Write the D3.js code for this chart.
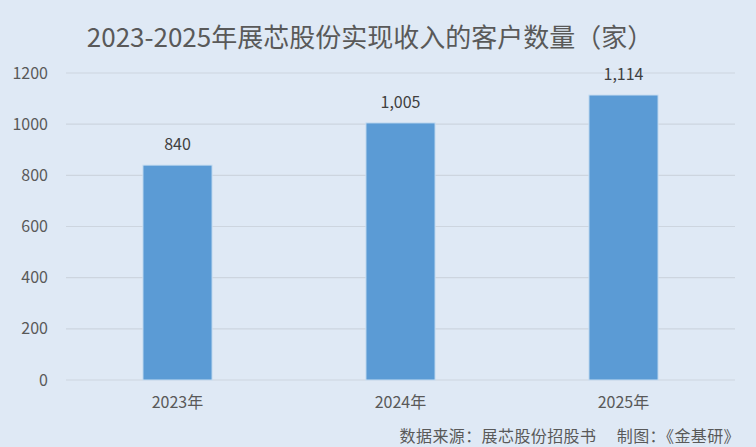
<!DOCTYPE html>
<html><head><meta charset="utf-8">
<script src="https://cdn.jsdelivr.net/npm/d3@7"></script>
<style>html,body{margin:0;padding:0;background:#dfe9f5;}svg{display:block;}</style>
</head><body>
<svg id="c" width="756" height="447"></svg>
<script>
const categories = ["2023年", "2024年", "2025年"];
const values = [840, 1005, 1114];
const valueLabels = ["840", "1,005", "1,114"];
const yTicks = [0, 200, 400, 600, 800, 1000, 1200];
const title = "2023-2025年展芯股份实现收入的客户数量（家）";
const source = "数据来源：展芯股份招股书　 制图：《金基研》";

const W = 756, H = 447;
const font = "'Noto Sans CJK SC', 'Microsoft YaHei', sans-serif";
const svg = d3.select("#c");
svg.append("rect").attr("width", W).attr("height", H).attr("fill", "#dfe9f5");

const m = {left: 66, right: 21, top: 73, bottom: 67};
const x = d3.scaleBand().domain(categories).range([m.left, W - m.right]).paddingInner(0.69).paddingOuter(0.345);
const y = d3.scaleLinear().domain([0, 1200]).range([H - m.bottom, m.top]);

// grid
svg.append("g").selectAll("line").data(yTicks).join("line")
  .attr("x1", m.left).attr("x2", W - m.right)
  .attr("y1", d => y(d)).attr("y2", d => y(d))
  .attr("stroke", "#cdd5df").attr("stroke-width", 1.2);

// y axis
const ya = svg.append("g").attr("transform", `translate(${m.left},0)`)
  .call(d3.axisLeft(y).tickValues(yTicks).tickSize(0).tickPadding(18).tickFormat(d3.format("d")));
ya.select(".domain").remove();
ya.selectAll("text").attr("font-family", font).attr("font-size", 16).attr("fill", "#595959");

// x axis
const xa = svg.append("g").attr("transform", `translate(0,${H - m.bottom})`)
  .call(d3.axisBottom(x).tickSize(0).tickPadding(17));
xa.select(".domain").remove();
xa.selectAll("text").attr("font-family", font).attr("font-size", 16).attr("fill", "#595959");

// bars
svg.append("g").selectAll("rect").data(values).join("rect")
  .attr("x", (d, i) => x(categories[i])).attr("width", x.bandwidth())
  .attr("y", d => y(d)).attr("height", d => y(0) - y(d))
  .attr("fill", "#5b9bd5").attr("stroke", "#c9def2").attr("stroke-width", 1);

// value labels
svg.append("g").selectAll("text").data(values).join("text")
  .attr("x", (d, i) => x(categories[i]) + x.bandwidth() / 2)
  .attr("y", d => y(d) - 15)
  .attr("text-anchor", "middle").attr("font-family", font).attr("font-size", 16).attr("fill", "#404040")
  .text((d, i) => valueLabels[i]);

// title
svg.append("text").attr("x", 370).attr("y", 47).attr("text-anchor", "middle")
  .attr("font-family", font).attr("font-size", 26).attr("fill", "#595959").text(title);

// source
svg.append("text").attr("x", 740).attr("y", 442).attr("text-anchor", "end")
  .attr("font-family", font).attr("font-size", 16).attr("letter-spacing", 0.4).attr("fill", "#595959").text(source);
</script>
</body></html>
